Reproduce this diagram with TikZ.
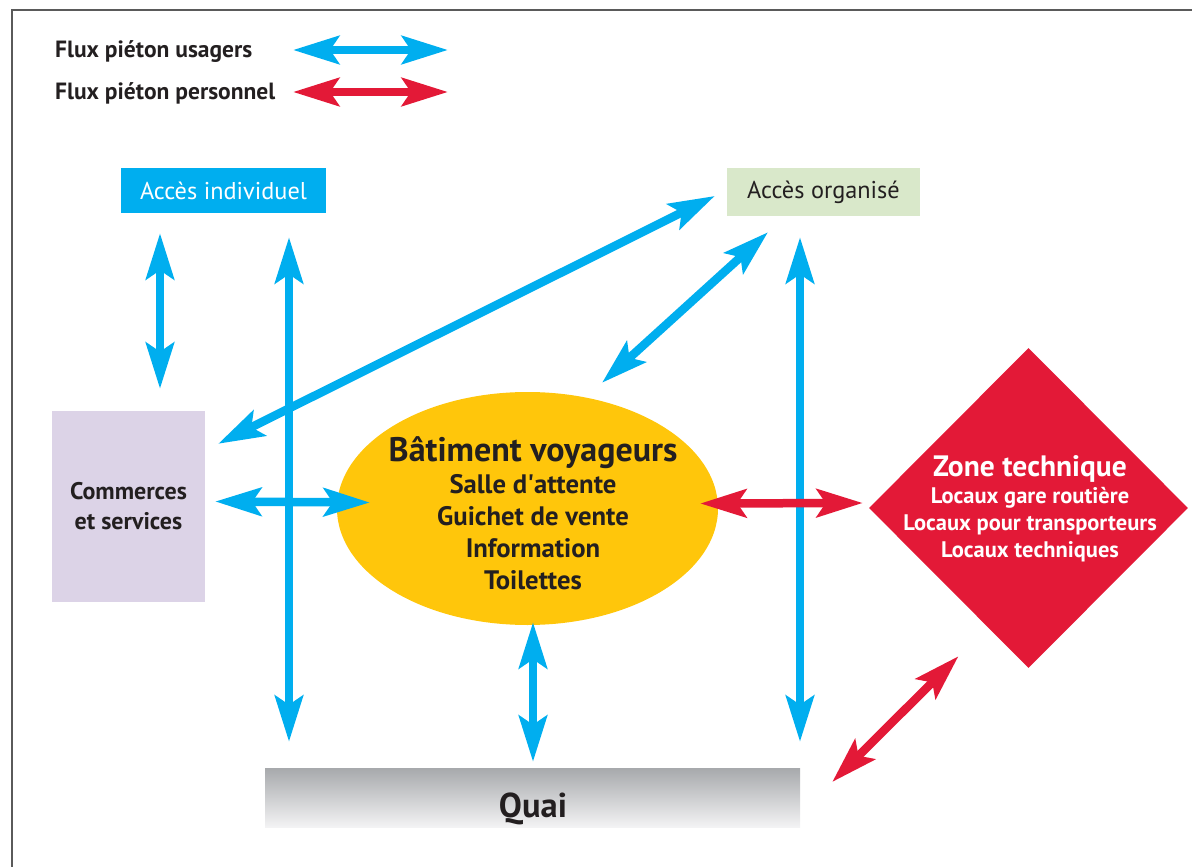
\documentclass[tikz,border=0pt]{standalone}
\usepackage{fontspec}
\setmainfont{PT Sans}
\usetikzlibrary{positioning,arrows.meta,shapes.geometric,calc}

\definecolor{usagerblue}{HTML}{00AEEF}
\definecolor{persored}{HTML}{E31937}
\definecolor{batyellow}{HTML}{FFC60B}
\definecolor{orggreen}{HTML}{D9E8CA}
\definecolor{commlilac}{HTML}{DCD3E7}
\definecolor{quaitop}{HTML}{A7A9AC}
\definecolor{quaibot}{HTML}{F3F3F4}
\definecolor{framegray}{HTML}{5A5A5A}
\definecolor{txtdark}{HTML}{231F20}

\begin{document}
\begin{tikzpicture}[
  x=1pt, y=-1pt,
  font=\bfseries\fontsize{23.5}{27}\selectfont, text=txtdark,
  txt/.style={inner sep=0pt},
  accbox/.style={minimum width=200, minimum height=46, inner sep=0pt, font=\fontsize{24.3}{28}\selectfont},
  flux/.style={line width=8.5pt, {Stealth[length=46pt, width=28pt, inset=9pt]}-{Stealth[length=46pt, width=28pt, inset=9pt]}},
  usager/.style={flux, draw=usagerblue},
  perso/.style={flux, draw=persored}
]
\useasboundingbox (0,0) rectangle (1192,867);
\draw[framegray, line width=1.6pt] (12,867) -- (12,10) -- (1192,10);

% legende
\node[txt, anchor=west] (legu) at (55,52) {Flux piéton usagers};
\node[txt, anchor=west] (legp) at (55,93) {Flux piéton personnel};
\coordinate (lu-a) at (293,50);
\coordinate (lu-b) at (448,50);
\coordinate (lp-a) at (293,92);
\coordinate (lp-b) at (448,92);
\draw[usager] (lu-a) -- (lu-b);
\draw[perso] (lp-a) -- (lp-b);

% zones
\node[accbox, fill=usagerblue, text=white, minimum width=205, minimum height=45] (indiv) at (223.5,190.5) {Accès individuel};
\node[accbox, fill=orggreen, minimum width=193, minimum height=48] (org) at (823.5,192) {Accès organisé};
\node[fill=commlilac, minimum width=153, minimum height=191, inner sep=0pt, align=center,
  font=\bfseries\fontsize{24}{30}\selectfont] (comm) at (128.5,506.5) {Commerces\\et services};
\node[ellipse, fill=batyellow, minimum width=381, minimum height=233, inner sep=0pt] (bat) at (527.5,508.5) {};
\node[txt, align=center, font=\bfseries\fontsize{26.7}{32}\selectfont] (battxt) at (533,513)
  {{\fontsize{34}{32}\selectfont Bâtiment voyageurs}\\Salle d\textquotesingle attente\\Guichet de vente\\Information\\Toilettes};
\node[diamond, fill=persored, minimum width=319, minimum height=320, inner sep=0pt] (zone) at (1028.5,508) {};
\node[txt, align=center, text=white, font=\bfseries\fontsize{22.5}{27}\selectfont] (zonetxt) at (1030,509)
  {{\fontsize{29.5}{27}\selectfont Zone technique}\\Locaux gare routière\\Locaux pour transporteurs\\Locaux techniques};
\node[top color=quaitop, bottom color=quaibot, minimum width=535, minimum height=59, inner sep=0pt] (quai) at (532.5,797.5) {};
\node[txt, font=\bfseries\fontsize{34.5}{36}\selectfont] (quaitxt) at (533,809) {Quai};

% flux usagers
\draw[usager] ($(indiv.south)+(-63.5,20)$) -- ($(comm.north)+(31.5,-22)$);
\draw[usager] ($(indiv.south)+(65.5,24)$) -- ($(quai.north)+(-243.5,-26)$);
\draw[usager] ($(org.west)+(-12,4)$) -- ($(comm.north east)+(13,33)$);
\draw[usager] ($(org.south)+(-55.5,16)$) -- ($(bat.north)+(74.5,-9)$);
\draw[usager] ($(org.south)+(-23.5,21)$) -- ($(quai.north)+(267.5,-26)$);
\draw[usager] ($(comm.east)+(10,-5)$) -- ($(bat.west)+(33,-6)$);
\draw[usager] ($(bat.south)+(5.5,-3)$) -- ($(quai.north)+(0.5,-6)$);

% flux personnel
\draw[perso] ($(bat.east)+(-18,-5)$) -- ($(zone.west)+(-6,-5)$);
\draw[perso] ($(zone.south)+(-70,-12)$) -- ($(quai.east)+(32,-15.5)$);
\end{tikzpicture}
\end{document}
